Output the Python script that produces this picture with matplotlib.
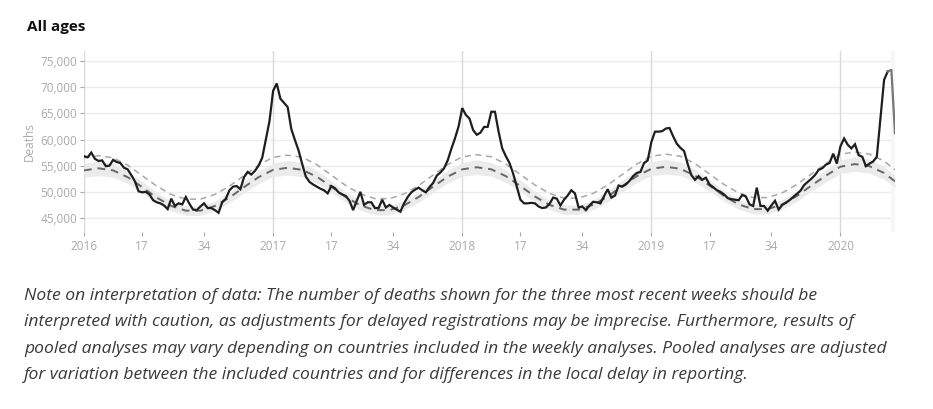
import numpy as np
import matplotlib
matplotlib.use("Agg")
import matplotlib.pyplot as plt


# Weekly deaths, all ages, ISO weeks from 2016 w1
deaths_2016 = [56800, 56600, 57500, 56300, 55900, 56000, 54900, 55000, 56100, 55700,
               55500, 54600, 54300, 53200, 52000, 50100, 49900, 50000, 49500, 48400,
               48000, 47800, 47400, 46700, 48700, 47300, 47800, 47600, 49000, 47700,
               46600, 46500, 47200, 47800, 46900, 46900, 46500, 46000, 48000, 48700,
               50300, 51000, 51100, 50500, 52800, 53800, 53300, 54000, 55000, 56500,
               60000, 63500]
deaths_2017 = [69300, 70700, 67800, 67000, 66200, 62000, 59900, 57900, 55300, 52900,
               51900, 51400, 51000, 50600, 50300, 49700, 51100, 50700, 49900, 49500,
               49200, 48300, 46500, 48300, 50000, 47500, 48000, 48000, 46900, 46900,
               48500, 47000, 47500, 47000, 46600, 46200, 47800, 49000, 49900, 50400,
               50800, 50300, 49900, 50900, 51700, 53100, 53700, 54500, 56000, 58200,
               60200, 62500]
deaths_2018 = [66000, 64700, 64000, 61800, 60900, 61300, 62400, 62400, 65300, 65300,
               61500, 58300, 56800, 55500, 53500, 51000, 48500, 47800, 47800, 47900,
               47800, 47200, 46900, 47000, 47700, 48900, 48700, 47400, 48500, 49300,
               50300, 49700, 47000, 47200, 46500, 47400, 48100, 48000, 47800, 49200,
               50500, 48900, 49300, 51200, 51000, 51400, 52100, 53000, 53600, 53800,
               55500, 56000]
deaths_2019 = [59500, 61500, 61500, 61600, 62100, 62200, 60600, 59200, 58400, 57800,
               55300, 53200, 52300, 53000, 52300, 52700, 51400, 50900, 50300, 50000,
               49500, 48800, 48600, 48500, 48400, 49400, 49100, 47600, 47300, 50800,
               47300, 47300, 46400, 47400, 48300, 46600, 47500, 47900, 48400, 49000,
               49600, 50200, 51300, 51900, 52500, 53200, 54200, 54500, 55200, 55500,
               57300, 55400]
deaths_2020 = [58700, 60200, 59000, 58300, 59100, 57000, 56700, 54900, 55400, 55800,
               56700, 64000, 71400, 73000, 73300, 61200]

# Baseline, upper threshold and band half-width, every 4th week
ref_week = list(range(0, 224, 4)) + [223]
baseline = [54100, 54500, 54100, 52800, 50900, 48900, 47300, 46400, 46400, 47300, 48900, 50900, 52800,
            54200, 54600, 54200, 52900, 51000, 49000, 47400, 46500, 46500, 47400, 49000, 51000, 52900,
            54300, 54700, 54300, 53000, 51100, 49100, 47500, 46600, 46600, 47500, 49100, 51100, 53000,
            54400, 54800, 54400, 53100, 51200, 49200, 47600, 46700, 46700, 47600, 49200, 51200, 53100,
            54800, 55300, 54900, 53600, 52000]
upper = [56500, 56900, 56500, 55100, 53100, 51100, 49500, 48600, 48600, 49500, 51100, 53100, 55100,
         56600, 57000, 56600, 55200, 53200, 51200, 49600, 48700, 48700, 49600, 51200, 53200, 55200,
         56700, 57100, 56700, 55300, 53300, 51300, 49700, 48800, 48800, 49700, 51300, 53300, 55300,
         56800, 57200, 56800, 55400, 53400, 51400, 49800, 48900, 48900, 49800, 51400, 53400, 55400,
         57200, 57600, 57200, 55900, 54200]
band_half = [1300, 1400, 1300, 1200, 1100, 1000, 900, 900, 900, 900, 1000, 1100, 1200] * 4 + \
            [1300, 1400, 1300, 1200, 1100]

tick_week = [0, 16, 33, 52, 68, 85, 104, 120, 137, 156, 172, 189, 208]
tick_text = ['2016', '17', '34', '2017', '17', '34', '2018', '17', '34', '2019', '17', '34', '2020']
year_start = [0, 52, 104, 156, 208]
n_recent = 3

note_lines = [
  "Note on interpretation of data: The number of deaths shown for the three most recent weeks should be",
  "interpreted with caution, as adjustments for delayed registrations may be imprecise. Furthermore, results of",
  "pooled analyses may vary depending on countries included in the weekly analyses. Pooled analyses are adjusted",
  "for variation between the included countries and for differences in the local delay in reporting.",
]


deaths = deaths_2016 + deaths_2017 + deaths_2018 + deaths_2019 + deaths_2020
weeks = np.arange(len(deaths))
base = np.array(baseline)
half = np.array(band_half)

plt.rcParams['font.family'] = ['Open Sans', 'DejaVu Sans']

fig = plt.figure(figsize=(9.33, 4.09), dpi=100)
ax = fig.add_axes([84/933, 1 - 232/409, (895 - 84)/933, (232 - 51)/409])

for s in ax.spines.values():
  s.set_visible(False)

ax.set_xlim(0, len(deaths) - 1)
ax.set_ylim(42325, 76911)

for yv in range(45000, 80000, 5000):
  ax.axhline(yv, color='#ececec', lw=1, zorder=0)
for xv in year_start:
  ax.axvline(xv, color='#dadada', lw=1, zorder=0)

# recent weeks shading
ax.axvspan(len(deaths) - n_recent + 0.8, len(deaths) - 1, color='#f7f7f7', lw=0, zorder=0)

ax.fill_between(ref_week, base - half, base + half, color='#ebebeb', lw=0, zorder=1)
ax.plot(ref_week, upper, color='#a8a8a8', lw=1.1, dashes=(4, 3), zorder=2)
ax.plot(ref_week, baseline, color='#666666', lw=1.4, dashes=(4, 3), zorder=2)

cut = len(deaths) - n_recent
ax.plot(weeks[:cut + 1], deaths[:cut + 1], color='#1e1e1e', lw=1.6, zorder=3, solid_joinstyle='miter')
ax.plot(weeks[cut:], deaths[cut:], color='#777777', lw=1.6, zorder=3)

ax.set_xticks(tick_week)
ax.set_xticklabels(tick_text)
ax.set_yticks(range(45000, 80000, 5000))
ax.set_yticklabels(["{:,}".format(v) for v in range(45000, 80000, 5000)])
ax.tick_params(axis='both', colors='#aaaaaa', labelsize=8.5, length=3, width=0.8)
ax.tick_params(axis='y', length=3, pad=2)
ax.tick_params(axis='x', pad=3)
ax.set_ylabel('Deaths', color='#aaaaaa', fontsize=8.5, labelpad=3)

fig.text(27/933, 1 - 27/409, 'All ages', fontsize=11, fontweight='bold', color='#111111',
         va='center', ha='left')

for i, line in enumerate(note_lines):
  fig.text(24/933, 1 - (296 + 26.3*i)/409, line, fontsize=12.6, style='italic', color='#3a3a3a',
           va='center', ha='left')

fig.savefig('out.png', dpi=100)
